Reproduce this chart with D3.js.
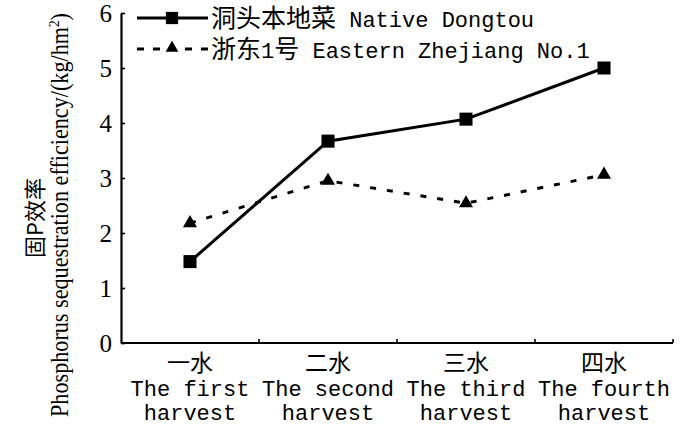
<!DOCTYPE html>
<html>
<head>
<meta charset="utf-8">
<script src="https://cdn.jsdelivr.net/npm/d3@7"></script>
<style>
  body { margin: 0; background: #fff; }
  svg { display: block; }
  .cjk { font-family: "Noto Sans CJK SC", sans-serif; }
  .mono { font-family: "Liberation Mono", "DejaVu Sans Mono", monospace; }
  .serif { font-family: "Liberation Serif", "DejaVu Serif", serif; }
</style>
</head>
<body>
<div id="chart"></div>
<script>
// categories (two-line english under the chinese label)
var harvestCn = ["一水", "二水", "三水", "四水"];
var harvestEn = ["The first", "The second", "The third", "The fourth"];
var harvestEn2 = ["harvest", "harvest", "harvest", "harvest"];

// phosphorus sequestration efficiency, kg/hm2
var nativeDongtou = [1.48, 3.67, 4.07, 5.0];
var easternZhejiang = [2.18, 2.95, 2.54, 3.06];

var yTicks = [0, 1, 2, 3, 4, 5, 6];

// legend pieces: [text, class]
var legNative = [["洞头本地菜", "cjk"], [" Native Dongtou", "mono"]];
var legEastern = [["浙东", "cjk"], ["1", "mono"], ["号", "cjk"], [" Eastern Zhejiang No.1", "mono"]];

var W = 700, H = 427;
var margin = {top: 13, right: 27, bottom: 84, left: 121},
    width = W - margin.left - margin.right,
    height = H - margin.top - margin.bottom;

var svg = d3.select("#chart").append("svg")
    .attr("width", W)
    .attr("height", H);

var g = svg.append("g")
    .attr("transform", "translate(" + margin.left + "," + margin.top + ")");

var x = d3.scaleBand()
    .domain(harvestCn)
    .range([0, width]);

var y = d3.scaleLinear()
    .domain([0, 6])
    .range([height, 0]);

// y axis, ticks point inward
var yAxis = g.append("g")
    .call(d3.axisLeft(y).tickValues(yTicks).tickFormat(d3.format("d"))
        .tickSize(-4).tickSizeOuter(0).tickPadding(9));
yAxis.attr("font-family", null);
yAxis.select(".domain").attr("stroke-width", 2.2);
yAxis.selectAll(".tick line").attr("stroke-width", 1.6);
yAxis.selectAll(".tick text")
    .attr("class", "serif")
    .attr("font-size", 25)
    .attr("fill", "#000");

// x axis, ticks on the category boundaries
var xAxis = g.append("g")
    .attr("transform", "translate(0," + height + ")");
xAxis.append("line")
    .attr("x1", 0).attr("x2", width)
    .attr("stroke", "#000").attr("stroke-width", 2.2);
xAxis.selectAll(".bnd")
    .data(harvestCn.slice(1).concat(["end"]))
    .enter().append("line")
    .attr("x1", function(d, i) { return i < 3 ? x(d) : width; })
    .attr("x2", function(d, i) { return i < 3 ? x(d) : width; })
    .attr("y1", 0).attr("y2", -4)
    .attr("stroke", "#000").attr("stroke-width", 1.6);

var lbl = xAxis.selectAll(".lbl")
    .data(harvestCn)
    .enter().append("g")
    .attr("transform", function(d) { return "translate(" + (x(d) + x.bandwidth() / 2) + ",0)"; });
lbl.append("text")
    .attr("class", "cjk")
    .attr("y", 28)
    .attr("text-anchor", "middle")
    .attr("font-size", 23)
    .text(function(d) { return d; });
lbl.append("text")
    .attr("class", "mono")
    .attr("y", 53)
    .attr("text-anchor", "middle")
    .attr("font-size", 22)
    .text(function(d, i) { return harvestEn[i]; });
lbl.append("text")
    .attr("class", "mono")
    .attr("y", 77)
    .attr("text-anchor", "middle")
    .attr("font-size", 22)
    .text(function(d, i) { return harvestEn2[i]; });

// y title
svg.append("text")
    .attr("class", "cjk")
    .attr("transform", "translate(43,218) rotate(-90)")
    .attr("text-anchor", "middle")
    .attr("font-size", 22)
    .text("固P效率");
svg.append("text")
    .attr("class", "serif")
    .attr("transform", "translate(68,215) rotate(-90)")
    .attr("text-anchor", "middle")
    .attr("font-size", 25)
    .attr("textLength", 404)
    .attr("lengthAdjust", "spacingAndGlyphs")
    .html("Phosphorus sequestration efficiency/(kg/hm<tspan dy='-9' font-size='15'>2</tspan><tspan dy='9'>)</tspan>");

var cx = function(d, i) { return x(harvestCn[i]) + x.bandwidth() / 2; };
var line = d3.line().x(cx).y(function(d) { return y(d); });

// native dongtou
g.append("path")
    .datum(nativeDongtou)
    .attr("d", line)
    .attr("fill", "none")
    .attr("stroke", "#000")
    .attr("stroke-width", 3);
g.selectAll(".sq")
    .data(nativeDongtou)
    .enter().append("path")
    .attr("d", d3.symbol(d3.symbolSquare, 170))
    .attr("transform", function(d, i) { return "translate(" + cx(d, i) + "," + y(d) + ")"; });

// eastern zhejiang no.1
g.append("path")
    .datum(easternZhejiang)
    .attr("d", line)
    .attr("fill", "none")
    .attr("stroke", "#000")
    .attr("stroke-width", 3)
    .attr("stroke-dasharray", "6,11");
g.selectAll(".tri")
    .data(easternZhejiang)
    .enter().append("path")
    .attr("d", d3.symbol(d3.symbolTriangle, 85))
    .attr("transform", function(d, i) { return "translate(" + cx(d, i) + "," + y(d) + ")"; });

// legend
var leg = svg.append("g");
leg.append("line").attr("x1", 137).attr("x2", 208).attr("y1", 18).attr("y2", 18)
    .attr("stroke", "#000").attr("stroke-width", 3);
leg.append("path").attr("d", d3.symbol(d3.symbolSquare, 150))
    .attr("transform", "translate(172,18)");
leg.append("line").attr("x1", 137).attr("x2", 208).attr("y1", 49).attr("y2", 49)
    .attr("stroke", "#000").attr("stroke-width", 3).attr("stroke-dasharray", "7,9");
leg.append("path").attr("d", d3.symbol(d3.symbolTriangle, 70))
    .attr("transform", "translate(172,48)");

// pieces laid side by side, each its own text
function legendRow(parts, x0, y0) {
  var xx = x0;
  parts.forEach(function(p) {
    var t = leg.append("text")
        .attr("class", p[1])
        .attr("x", xx)
        .attr("y", y0)
        .attr("font-size", p[1] == "cjk" ? 25 : 22)
        .style("white-space", "pre")
        .text(p[0]);
    xx += t.node().getComputedTextLength();
  });
}
legendRow(legNative, 211, 27);
legendRow(legEastern, 211, 58);
</script>
</body>
</html>
